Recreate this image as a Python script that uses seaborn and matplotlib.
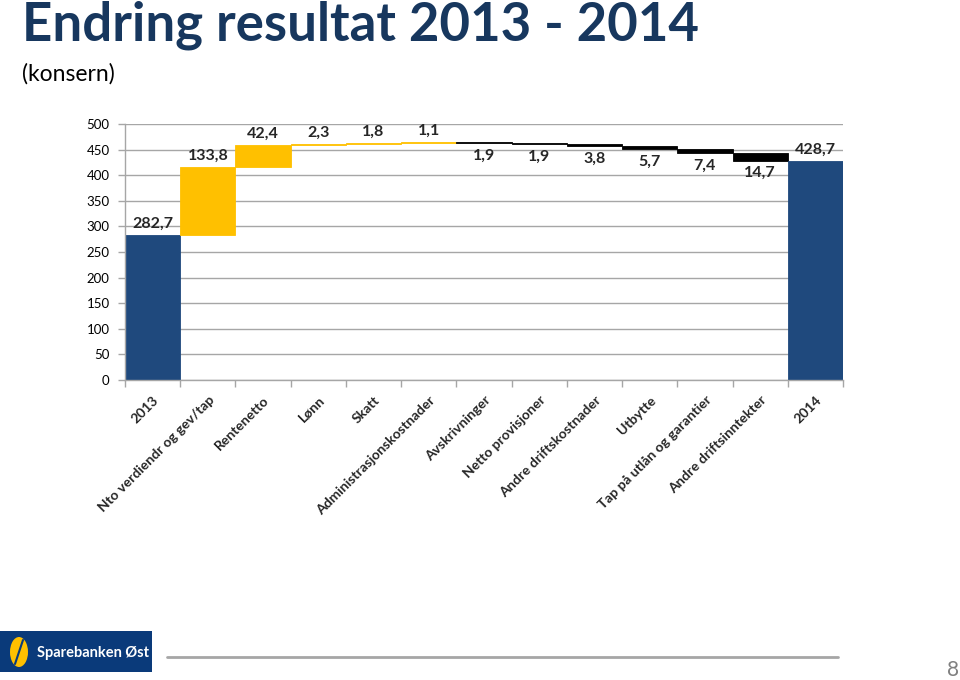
import numpy as np
import pandas as pd
import matplotlib
matplotlib.use("Agg")
import matplotlib.pyplot as plt
import seaborn as sns
from matplotlib.patches import Rectangle, Ellipse
from matplotlib.lines import Line2D

# ---- data ----
categories = ["2013", "Nto verdiendr og gev/tap", "Rentenetto", "Lønn", "Skatt",
              "Administrasjonskostnader", "Avskrivninger", "Netto provisjoner",
              "Andre driftskostnader", "Utbytte", "Tap på utlån og garantier",
              "Andre driftsinntekter", "2014"]
changes = [282.7, 133.8, 42.4, 2.3, 1.8, 1.1, -1.9, -1.9, -3.8, -5.7, -7.4, -14.7, 428.7]
kinds = ["total", "up", "up", "up", "up", "up",
         "down", "down", "down", "down", "down", "down", "total"]
y_ticks = [0, 50, 100, 150, 200, 250, 300, 350, 400, 450, 500]

kind_colors = {"total": "#1F497D", "up": "#FFC000", "down": "#000000"}

# waterfall geometry derived from data
bottoms, heights = [], []
running = 0.0
for v, k in zip(changes, kinds):
    if k == "total":
        bottoms.append(0.0)
        heights.append(v)
        running = v
    else:
        bottoms.append(running)
        heights.append(v)
        running += v
df = pd.DataFrame({"category": categories, "height": heights,
                   "bottom": bottoms, "kind": kinds})
bar_colors = [kind_colors[k] for k in kinds]

sns.set_theme(style="white")
plt.rcParams["font.family"] = ["Lato", "DejaVu Sans"]

fig = plt.figure(figsize=(9.6, 6.8), dpi=100)
ax = fig.add_axes([125 / 960, 1 - 380 / 680, 718 / 960, 256 / 680])

sns.barplot(data=df, x="category", y="height", order=categories,
            bottom=df["bottom"].to_numpy(), width=1.0, errorbar=None,
            color=kind_colors["total"], saturation=1,
            facecolor=bar_colors, edgecolor=bar_colors, linewidth=0.6,
            ax=ax)

grid_col = "#A6A6A6"
ax.set_ylim(0, 500)
ax.set_xlim(-0.5, len(categories) - 0.5)
ax.set_yticks(y_ticks)
ax.set_yticklabels([str(t) for t in y_ticks], fontsize=9.5, color="#000000")
ax.yaxis.grid(True, color=grid_col, linewidth=1)
ax.xaxis.grid(False)
ax.set_axisbelow(True)
ax.set_xlabel("")
ax.set_ylabel("")
for s in ["top", "right"]:
    ax.spines[s].set_visible(False)
for s in ["left", "bottom"]:
    ax.spines[s].set_color(grid_col)
    ax.spines[s].set_linewidth(1)
ax.tick_params(axis="y", length=5, color=grid_col, width=1, pad=6, left=True)

ax.set_xticks(range(len(categories)))
ax.set_xticklabels(categories, rotation=45, ha="right", rotation_mode="anchor",
                   fontsize=10, fontweight="bold")
ax.tick_params(axis="x", which="major", length=0, pad=10)
ax.set_xticks(np.arange(-0.5, len(categories), 1.0), minor=True)
ax.tick_params(axis="x", which="minor", length=5, color=grid_col, width=1,
               bottom=True, direction="out")

# value labels
for i, (v, k, b, h) in enumerate(zip(changes, kinds, bottoms, heights)):
    txt = f"{abs(v):.1f}".replace(".", ",")
    if k == "down":
        ax.annotate(txt, xy=(i, b + h), xytext=(0, -4), textcoords="offset points",
                    ha="center", va="top", fontsize=11.5, fontweight="bold")
    else:
        ax.annotate(txt, xy=(i, b + h), xytext=(0, 3), textcoords="offset points",
                    ha="center", va="bottom", fontsize=11.5, fontweight="bold")

# title
fig.text(22 / 960, 1 - 25 / 680, "Endring resultat 2013 - 2014", fontsize=38,
         fontweight="bold", color="#17375E", va="center", ha="left")
fig.text(22 / 960, 1 - 74 / 680, "(konsern)", fontsize=16.5, color="#000000",
         va="center", ha="left")

# footer: logo, line, page number
fig.patches.append(Rectangle((0, 1 - 672 / 680), 152 / 960, 41 / 680,
                             transform=fig.transFigure, facecolor="#0A3A7A",
                             edgecolor="none"))
fig.patches.append(Ellipse((19 / 960, 1 - 652 / 680), 18 / 960, 30 / 680,
                           transform=fig.transFigure, facecolor="#FFC000",
                           edgecolor="none"))
fig.lines.append(Line2D([15 / 960, 23 / 960], [1 - 664 / 680, 1 - 640 / 680],
                        transform=fig.transFigure, color="#0A3A7A", linewidth=1.5))
fig.text(37 / 960, 1 - 653 / 680, "Sparebanken Øst", fontsize=10.5,
         color="white", fontweight="bold", va="center", ha="left")
fig.lines.append(Line2D([167 / 960, 838 / 960], [1 - 657 / 680, 1 - 657 / 680],
                        transform=fig.transFigure, color="#A6A6A6", linewidth=2))
fig.text(953 / 960, 1 - 670 / 680, "8", fontsize=15, color="#808080",
         va="center", ha="center")

fig.savefig("out.png", dpi=100)
